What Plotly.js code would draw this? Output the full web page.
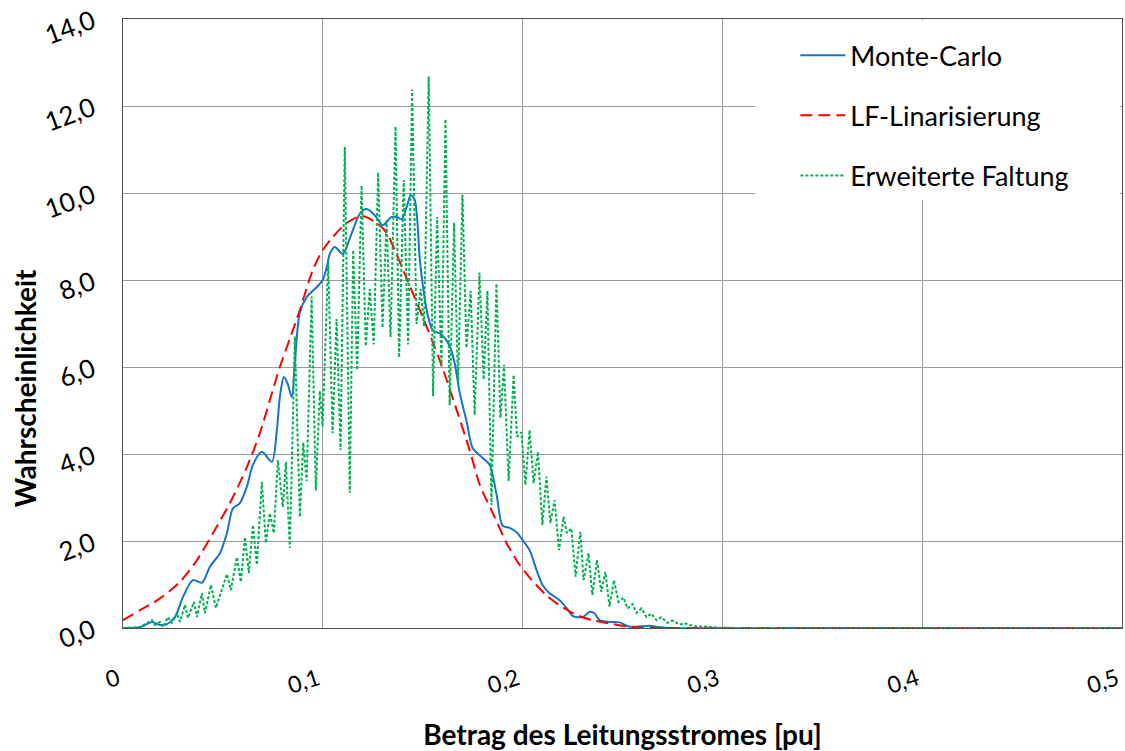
<!DOCTYPE html>
<html>
<head>
<meta charset="utf-8">
<script src="https://cdn.plot.ly/plotly-3.0.1.min.js"></script>
<style>html,body{margin:0;padding:0;background:#fff;}#chart{width:1125px;height:751px;}</style>
</head>
<body>
<div id="chart"></div>
<script>
// Axis ticks
const xTickVals = [0, 0.1, 0.2, 0.3, 0.4, 0.5];
const xTickText = ['0', '0,1', '0,2', '0,3', '0,4', '0,5'];

// Monte-Carlo
const mcX = [0, 0.0085, 0.0145, 0.0185, 0.022, 0.026, 0.03, 0.035, 0.0395, 0.0435, 0.0485, 0.052, 0.055, 0.0585, 0.062, 0.065, 0.0695, 0.0745, 0.077, 0.0785, 0.0805, 0.0825, 0.0845, 0.086, 0.0885, 0.092, 0.097, 0.1, 0.102, 0.1035, 0.106, 0.11, 0.1145, 0.1185, 0.122, 0.126, 0.13, 0.1345, 0.137, 0.1395, 0.142, 0.144, 0.146, 0.1485, 0.15, 0.1525, 0.155, 0.1595, 0.1635, 0.166, 0.1685, 0.172, 0.175, 0.1795, 0.1835, 0.187, 0.19, 0.1935, 0.197, 0.2, 0.2035, 0.207, 0.21, 0.2135, 0.2185, 0.222, 0.225, 0.23, 0.2335, 0.236, 0.2385, 0.2435, 0.2485, 0.2535, 0.2635, 0.2685, 0.2735, 0.35, 0.5];
const mcY = [0, 0.02, 0.14, 0.07, 0.09, 0.25, 0.71, 1.1, 1.04, 1.41, 1.72, 2.18, 2.75, 2.87, 3.25, 3.75, 4.05, 3.82, 4.55, 5.3, 5.77, 5.6, 5.31, 6.1, 7.25, 7.61, 7.84, 8.0, 8.3, 8.6, 8.76, 8.6, 9.08, 9.52, 9.63, 9.49, 9.26, 9.45, 9.45, 9.4, 9.68, 9.95, 9.84, 8.5, 7.9, 7.2, 6.85, 6.74, 6.48, 6.09, 5.41, 4.74, 4.14, 3.93, 3.75, 3.06, 2.35, 2.3, 2.2, 2.02, 1.79, 1.33, 0.99, 0.8, 0.64, 0.46, 0.28, 0.25, 0.37, 0.34, 0.18, 0.14, 0.13, 0.03, 0.05, 0.02, 0, 0, 0];

// LF-Linarisierung
const lfX = [0, 0.0085, 0.0185, 0.0285, 0.037, 0.045, 0.0535, 0.062, 0.0685, 0.0735, 0.0785, 0.0835, 0.0885, 0.095, 0.1, 0.105, 0.112, 0.1195, 0.127, 0.132, 0.136, 0.141, 0.15, 0.1585, 0.167, 0.1735, 0.1785, 0.185, 0.192, 0.1985, 0.205, 0.212, 0.2185, 0.227, 0.235, 0.245, 0.255, 0.2685, 0.35, 0.5];
const lfY = [0.18, 0.41, 0.68, 1.06, 1.56, 2.18, 2.87, 3.7, 4.48, 5.24, 6.0, 6.65, 7.31, 8.23, 8.69, 8.99, 9.31, 9.47, 9.31, 9.08, 8.69, 8.14, 7.15, 6.16, 5.01, 4.09, 3.3, 2.65, 1.95, 1.45, 1.08, 0.75, 0.52, 0.3, 0.18, 0.09, 0.02, 0, 0, 0];

// Erweiterte Faltung
const efX = [0, 0.0085, 0.0145, 0.016, 0.0185, 0.02, 0.0225, 0.0245, 0.027, 0.0285, 0.031, 0.0325, 0.0355, 0.037, 0.0395, 0.041, 0.044, 0.0465, 0.052, 0.054, 0.057, 0.059, 0.061, 0.063, 0.065, 0.067, 0.0695, 0.0715, 0.0735, 0.0755, 0.0775, 0.08, 0.0815, 0.0835, 0.086, 0.0885, 0.0902, 0.0919, 0.0944, 0.0965, 0.0985, 0.0999, 0.1027, 0.1049, 0.1069, 0.1089, 0.111, 0.1135, 0.1152, 0.1172, 0.1194, 0.1215, 0.1235, 0.1255, 0.1277, 0.1299, 0.1319, 0.1339, 0.1364, 0.1382, 0.1405, 0.1427, 0.1447, 0.1469, 0.149, 0.1507, 0.153, 0.1552, 0.1572, 0.1594, 0.1614, 0.1635, 0.1657, 0.1677, 0.1699, 0.1719, 0.174, 0.176, 0.1784, 0.1805, 0.1824, 0.1844, 0.1869, 0.1889, 0.1907, 0.193, 0.1955, 0.1972, 0.1994, 0.2014, 0.2035, 0.2055, 0.2077, 0.2099, 0.2119, 0.2139, 0.216, 0.2182, 0.2205, 0.2222, 0.2244, 0.2265, 0.2289, 0.2305, 0.233, 0.2349, 0.2372, 0.2394, 0.2414, 0.2435, 0.2457, 0.248, 0.2505, 0.2525, 0.255, 0.257, 0.2595, 0.262, 0.2645, 0.267, 0.2695, 0.2725, 0.275, 0.2785, 0.281, 0.286, 0.292, 0.2985, 0.3085, 0.5];
const efY = [0, 0.02, 0.18, 0.07, 0.14, 0.02, 0.25, 0.11, 0.34, 0.14, 0.53, 0.23, 0.6, 0.25, 0.8, 0.34, 0.99, 0.46, 1.24, 0.87, 1.63, 1.06, 2.09, 1.26, 2.37, 1.45, 3.36, 1.95, 2.64, 2.18, 3.86, 2.78, 3.82, 1.84, 6.7, 2.55, 4.26, 3.38, 7.62, 3.16, 5.45, 4.64, 8.43, 4.48, 7.1, 4.09, 11.06, 3.11, 8.69, 5.93, 10.17, 6.48, 7.79, 6.52, 10.47, 6.9, 9.37, 6.69, 11.53, 6.22, 10.3, 6.52, 12.38, 6.99, 7.79, 6.94, 12.68, 5.33, 9.45, 6.01, 11.7, 5.12, 9.32, 5.59, 9.96, 6.44, 7.75, 4.9, 8.17, 5.71, 7.75, 2.83, 7.92, 4.83, 6.05, 3.38, 5.82, 4.4, 4.5, 3.29, 4.55, 3.33, 4.05, 2.37, 3.48, 2.41, 2.94, 1.79, 2.56, 2.18, 2.29, 1.18, 2.21, 1.1, 1.72, 0.76, 1.56, 0.83, 1.29, 0.49, 1.1, 0.6, 0.7, 0.45, 0.55, 0.35, 0.45, 0.25, 0.33, 0.18, 0.25, 0.12, 0.17, 0.08, 0.11, 0.04, 0.03, 0.01, 0, 0];

const fontFam = 'Lato, "Open Sans", sans-serif';

const traces = [
  {x: mcX, y: mcY, name: 'Monte-Carlo', type: 'scatter', mode: 'lines', legendgroup: 'a',
   line: {color: '#1673c6', width: 2, shape: 'spline', smoothing: 0.8}},
  {x: lfX, y: lfY, name: 'LF-Linarisierung', type: 'scatter', mode: 'lines', legendgroup: 'b',
   line: {color: '#ff0000', width: 2, dash: '12px,6px', shape: 'spline', smoothing: 0.8}},
  {x: efX, y: efY, name: 'Erweiterte Faltung', type: 'scatter', mode: 'lines', legendgroup: 'c',
   line: {color: '#00b050', width: 2, dash: '3px,2px'}}
];

const layout = {
  width: 1125, height: 751,
  margin: {l: 123, r: 3, t: 19, b: 123},
  paper_bgcolor: '#ffffff', plot_bgcolor: '#ffffff',
  separators: ',.',
  font: {family: fontFam, color: '#000000', size: 22},
  showlegend: true,
  legend: {x: 0.673, y: 0.98, xanchor: 'left', yanchor: 'top', bgcolor: 'rgba(0,0,0,0)',
           font: {family: fontFam, size: 27, color: '#000'}, itemwidth: 45,
           tracegroupgap: 22, traceorder: 'grouped'},
  xaxis: {range: [0, 0.5], tickvals: xTickVals, ticktext: xTickText, showgrid: true, gridcolor: '#9a9a9a', gridwidth: 1,
          zeroline: false, showline: true, mirror: true, linecolor: '#505050', linewidth: 1,
          ticks: '', tickangle: -18, ticklabelstandoff: 28, ticklabelshift: -5, ticklabeloverflow: 'allow',
          tickfont: {family: fontFam, size: 23, color: '#000'},
          title: {text: 'Betrag des Leitungsstromes [pu]', standoff: 27,
                  font: {family: fontFam, size: 28, color: '#000', weight: 'bold'}}},
  yaxis: {range: [0, 14], dtick: 2, tick0: 0, tickformat: '.1f', showgrid: true, gridcolor: '#9a9a9a', gridwidth: 1,
          zeroline: false, showline: true, mirror: true, linecolor: '#505050', linewidth: 1,
          ticks: '', tickangle: -20, ticklabelstandoff: 24, ticklabeloverflow: 'allow',
          tickfont: {family: fontFam, size: 26, color: '#000'}},
  shapes: [
    {type: 'rect', xref: 'paper', yref: 'paper', x0: 0.6326, x1: 0.998, y0: 0.7028, y1: 0.998,
     fillcolor: '#ffffff', line: {width: 0}, layer: 'above'}
  ],
  annotations: [
    {text: 'Wahrscheinlichkeit', xref: 'paper', yref: 'paper', x: -0.098, y: 0.394,
     xanchor: 'center', yanchor: 'middle', textangle: -90, showarrow: false,
     font: {family: fontFam, size: 28, color: '#000', weight: 'bold'}}
  ]
};

Plotly.newPlot('chart', traces, layout, {staticPlot: true, displayModeBar: false});
</script>
</body>
</html>
